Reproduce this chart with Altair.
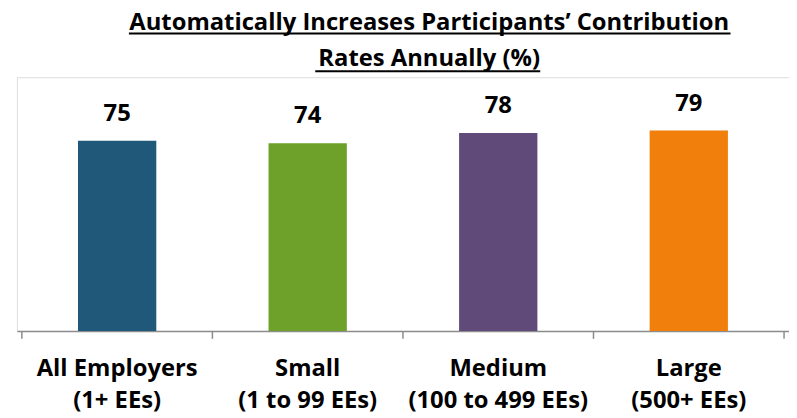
import altair as alt
import pandas as pd

categories = ["All Employers\n(1+ EEs)", "Small\n(1 to 99 EEs)", "Medium\n(100 to 499 EEs)", "Large\n(500+ EEs)"]
values = [75, 74, 78, 79]
colors = ["#1F5878", "#6EA12A", "#604A7A", "#F07F0B"]
title_lines = ["Automatically Increases Participants\u2019 Contribution", "Rates Annually (%)"]

FONT = "Open Sans"
W, H = 779, 256
AXIS_GRAY = "#8C8C8C"

df = pd.DataFrame({"cat": categories, "value": values, "idx": list(range(len(categories)))})

xscale = alt.Scale(domain=[-0.5, len(categories) - 0.5], nice=False, zero=False)
x = alt.X("idx:Q", scale=xscale,
          axis=alt.Axis(title=None, labels=False, ticks=False, grid=False,
                        domainColor=AXIS_GRAY, domainWidth=1.5))
y = alt.Y("value:Q", scale=alt.Scale(domain=[0, 100]), axis=None)

base = alt.Chart(df)
bars = base.mark_bar(size=79).encode(
    x=x, y=y,
    color=alt.Color("cat:N", scale=alt.Scale(domain=categories, range=colors), legend=None),
)
values_text = base.mark_text(font=FONT, fontSize=24, fontWeight="bold", color="black",
                             baseline="alphabetic", dy=-20).encode(
    x=alt.X("idx:Q", scale=xscale), y=y, text="value:Q")

cat_text = base.mark_text(font=FONT, fontSize=24, fontWeight="bold", color="black",
                          baseline="alphabetic", lineBreak="\n", lineHeight=33).encode(
    x=alt.X("idx:Q", scale=xscale), y=alt.value(H + 45), text="cat:N")

ticks_left = base.transform_calculate(tx="datum.idx - 0.5").mark_rule(
    color=AXIS_GRAY, strokeWidth=1.5).encode(
    x=alt.X("tx:Q", scale=xscale), y=alt.value(H), y2=alt.value(H + 8))
ticks_right = base.transform_filter(alt.datum.idx == len(categories) - 1).transform_calculate(
    tx="datum.idx + 0.5").mark_rule(color=AXIS_GRAY, strokeWidth=1.5).encode(
    x=alt.X("tx:Q", scale=xscale), y=alt.value(H), y2=alt.value(H + 8))

title1 = alt.Chart(pd.DataFrame({"t": [title_lines[0]]})).mark_text(
    font=FONT, fontSize=24, fontWeight="bold", color="black", baseline="alphabetic", align="center"
).encode(x=alt.value(416), y=alt.value(-48), text="t:N")
title2 = alt.Chart(pd.DataFrame({"t": [title_lines[1]]})).mark_text(
    font=FONT, fontSize=24, fontWeight="bold", color="black", baseline="alphabetic", align="center"
).encode(x=alt.value(416), y=alt.value(-11), text="t:N")
ul1 = alt.Chart(pd.DataFrame({"a": [0]})).mark_rule(color="black", strokeWidth=2).encode(
    x=alt.value(113), x2=alt.value(720), y=alt.value(-44))
ul2 = alt.Chart(pd.DataFrame({"a": [0]})).mark_rule(color="black", strokeWidth=2).encode(
    x=alt.value(301), x2=alt.value(528), y=alt.value(-6))

chart = alt.layer(bars, values_text, cat_text, ticks_left, ticks_right,
                  title1, title2, ul1, ul2).properties(
    width=W, height=H,
    autosize=alt.AutoSizeParams(type="none"),
    padding={"left": 9, "top": 68, "right": 0, "bottom": 86},
).configure_view(stroke=None).configure(background="white")

chart.save("out.html", embed_options={"renderer": "svg", "actions": False})
